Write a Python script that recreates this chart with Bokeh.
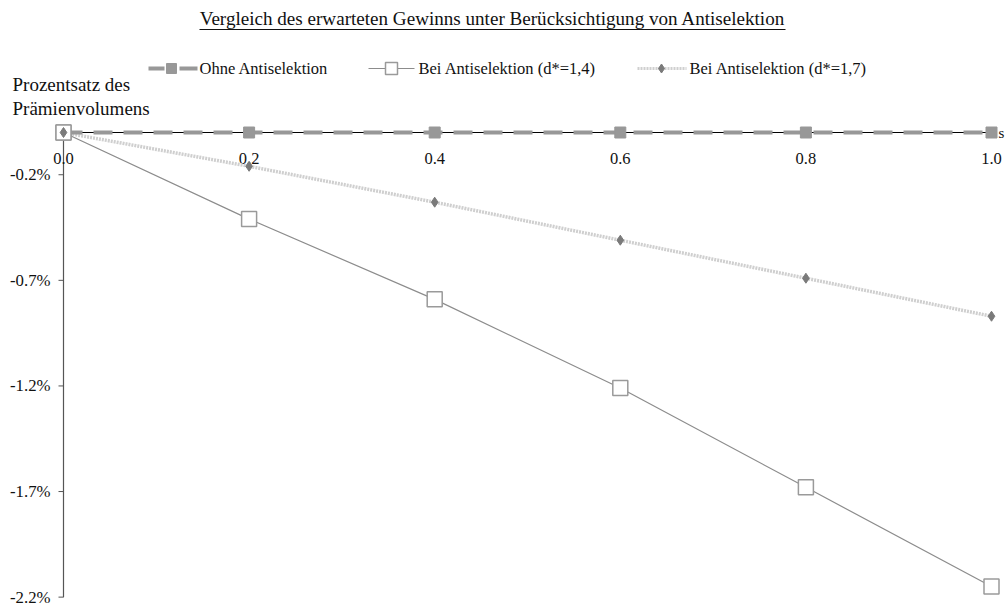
from bokeh.plotting import figure
from bokeh.models import Range1d
from bokeh.core.properties import value
from bokeh.embed import file_html
from bokeh.resources import INLINE

# --- data (Prozent des Prämienvolumens) ---
s_values = [0.0, 0.2, 0.4, 0.6, 0.8, 1.0]
ohne_antiselektion = [0.0, 0.0, 0.0, 0.0, 0.0, 0.0]
antiselektion_d14 = [0.0, -0.41, -0.79, -1.21, -1.68, -2.15]
antiselektion_d17 = [0.0, -0.16, -0.33, -0.51, -0.69, -0.87]

x_ticks = [0.0, 0.2, 0.4, 0.6, 0.8, 1.0]
x_tick_labels = ["0.0", "0.2", "0.4", "0.6", "0.8", "1.0"]
y_ticks = [-2.2, -1.7, -1.2, -0.7, -0.2]
y_tick_labels = ["-2.2%", "-1.7%", "-1.2%", "-0.7%", "-0.2%"]
y_min = -2.2

title_text = "Vergleich des erwarteten Gewinns unter Berücksichtigung von Antiselektion"
series_names = ["Ohne Antiselektion", "Bei Antiselektion (d*=1,4)", "Bei Antiselektion (d*=1,7)"]
y_title = ["Prozentsatz des", "Prämienvolumens"]
x_title = "s"

# --- canvas geometry: the frame covers the whole page ---
W, H = 1006, 606
X0, XS = 63.0, 928.0     # pixel of s=0, pixels per unit s
Y0, YS = 132.0, 211.2    # pixel of 0 %, pixels per percent


def dx(px):
    return (px - X0) / XS


def dy(py):
    return (Y0 - py) / YS


FONT = value("Liberation Serif")
TXT = "#111111"
GREY1 = "#989898"
GREY2 = "#8c8c8c"
GREY3 = "#cfcfcf"
SQ_EDGE = "#9a9a9a"
DIAM = "#7a7a7a"

p = figure(width=W, height=H, output_backend="svg", toolbar_location=None,
           x_range=Range1d(dx(0), dx(W)), y_range=Range1d(dy(H), dy(0)),
           x_axis_type=None, y_axis_type=None, min_border=0,
           outline_line_color=None, background_fill_color="white")
p.grid.visible = False

# y axis line and ticks
p.segment(x0=[0], y0=[y_min], x1=[0], y1=[0], line_color="#555555", line_width=1.2)
p.segment(x0=[dx(X0 - 5)] * len(y_ticks), y0=y_ticks, x1=[0] * len(y_ticks), y1=y_ticks,
          line_color="#555555", line_width=1)
p.text(x=[dx(50)] * len(y_ticks), y=y_ticks, text=y_tick_labels, text_font=FONT,
       text_font_size="16.8px", text_align="right", text_baseline="middle", text_color=TXT)

# x axis line at 0 %
p.segment(x0=[0], y0=[0], x1=[s_values[-1]], y1=[0], line_color="black", line_width=1.2)
p.text(x=x_ticks, y=[dy(158)] * len(x_ticks), text=x_tick_labels, text_font=FONT,
       text_font_size="16.5px", text_align="center", text_baseline="middle", text_color=TXT)
p.text(x=[dx(998)], y=[0], text=[x_title], text_font=FONT, text_font_size="15px",
       text_align="left", text_baseline="middle", text_color=TXT)

# series: d* = 1,7
p.line(s_values, antiselektion_d17, line_color=GREY3, line_width=3.5, line_dash="2 1")
p.scatter(s_values, antiselektion_d17, marker="diamond", size=10, fill_color=DIAM, line_color=DIAM)

# series: d* = 1,4
p.line(s_values, antiselektion_d14, line_color=GREY2, line_width=1.2)
p.scatter(s_values, antiselektion_d14, marker="square", size=15, fill_color="white",
          line_color=SQ_EDGE, line_width=1.5)

# series: ohne Antiselektion
p.line(s_values, ohne_antiselektion, line_color=GREY1, line_width=4, line_dash="19 11")
p.scatter(s_values, ohne_antiselektion, marker="square", size=11, fill_color=GREY1, line_color=GREY1)

# at s = 0 the later series are drawn over the first one
p.scatter([s_values[0]], [antiselektion_d14[0]], marker="square", size=15, fill_color="white",
          line_color=SQ_EDGE, line_width=1.5)
p.scatter([s_values[0]], [antiselektion_d17[0]], marker="diamond", size=10,
          fill_color=DIAM, line_color=DIAM)

# title with underline
p.text(x=[dx(492)], y=[dy(18)], text=[title_text], text_font=FONT, text_font_size="19.1px",
       text_align="center", text_baseline="middle", text_color=TXT)
p.segment(x0=[dx(199)], y0=[dy(29)], x1=[dx(785)], y1=[dy(29)], line_color=TXT, line_width=1)

# y axis title
p.text(x=[dx(12), dx(12)], y=[dy(84), dy(108)], text=y_title, text_font=FONT,
       text_font_size="19px", text_align="left", text_baseline="middle", text_color=TXT)

# legend
ly = dy(68)
p.segment(x0=[dx(148), dx(179)], y0=[ly, ly], x1=[dx(164), dx(197)], y1=[ly, ly],
          line_color=GREY1, line_width=4)
p.scatter([dx(171)], [ly], marker="square", size=10, fill_color=GREY1, line_color=GREY1)
p.line([dx(368), dx(414)], [ly, ly], line_color=GREY2, line_width=1.2)
p.scatter([dx(391)], [ly], marker="square", size=12, fill_color="white", line_color=SQ_EDGE,
          line_width=1.5)
p.line([dx(637), dx(686)], [ly, ly], line_color=GREY3, line_width=3, line_dash="2 1")
p.scatter([dx(661)], [ly], marker="diamond", size=9, fill_color=DIAM, line_color=DIAM)
p.text(x=[dx(199), dx(418), dx(689)], y=[ly] * 3, text=series_names, text_font=FONT,
       text_font_size="16.5px", text_align="left", text_baseline="middle", text_color=TXT)

open("out.html", "w").write(file_html(p, INLINE))
